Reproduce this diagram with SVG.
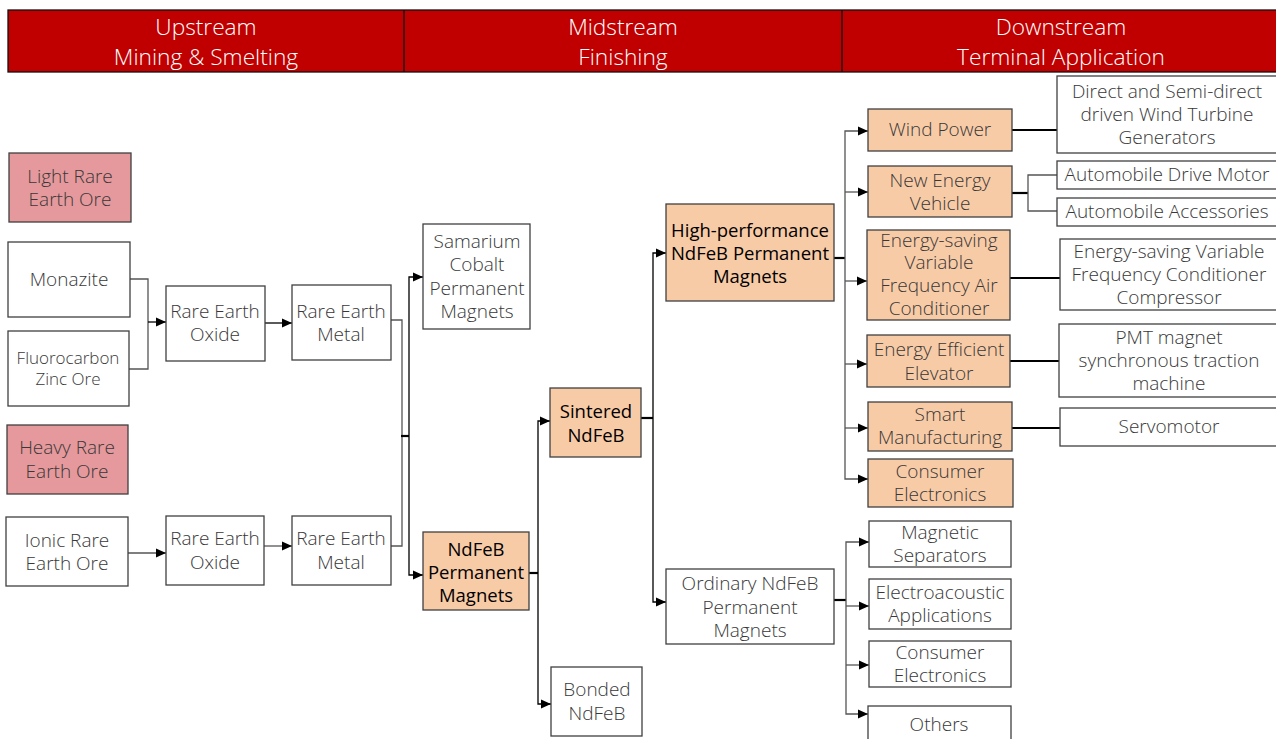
<svg xmlns="http://www.w3.org/2000/svg" width="1276" height="739" viewBox="0 0 1276 739">
<style>
.hdr{fill:#C00000;stroke:#111;stroke-width:1.3}
.ht{font-family:"Open Sans","DejaVu Sans",sans-serif;font-weight:300;font-size:22.7px;fill:#fff;text-anchor:middle;dominant-baseline:central}
.b{fill:#fff;stroke:#404040;stroke-width:1.3}
.pk{fill:#E6999C;stroke:#404040;stroke-width:1.3}
.pc{fill:#F8CBA7;stroke:#404040;stroke-width:1.3}
text.t{font-family:"Open Sans","DejaVu Sans",sans-serif;font-weight:300;font-size:19px;fill:#383838;text-anchor:middle;dominant-baseline:central}
text.k{font-family:"Open Sans","DejaVu Sans",sans-serif;font-weight:400;font-size:18.5px;fill:#000;text-anchor:middle;dominant-baseline:central}
.c{fill:none;stroke:#000;stroke-width:1.3}
.g{fill:none;stroke:#555;stroke-width:1.3}
.th{fill:none;stroke:#000;stroke-width:2.2}
.a{marker-end:url(#ar)}
</style>
<defs>
<marker id="ar" markerUnits="userSpaceOnUse" markerWidth="10" markerHeight="10" viewBox="0 0 10 10" refX="10" refY="5" orient="auto">
<path d="M0,0.5 L10,5 L0,9.5 Z" fill="#000"/>
</marker>
</defs>

<g id="header">
<rect class="hdr" x="8" y="10" width="1280" height="62"/>
<line x1="404" y1="10" x2="404" y2="72" stroke="#111" stroke-width="1.3"/>
<line x1="842" y1="10" x2="842" y2="72" stroke="#111" stroke-width="1.3"/>
<text class="ht" x="206" y="26">Upstream</text>
<text class="ht" x="206" y="56">Mining &amp; Smelting</text>
<text class="ht" x="623" y="26">Midstream</text>
<text class="ht" x="623" y="56">Finishing</text>
<text class="ht" x="1061" y="26">Downstream</text>
<text class="ht" x="1061" y="56">Terminal Application</text>
</g>

<g id="connectors">
<path class="g" d="M130 279 H148 V369 H129"/>
<path class="c a" d="M148 322 H166"/>
<path class="c a" d="M265 323 H292"/>
<path class="g a" d="M128 553 H166"/>
<path class="g a" d="M264 546 H292"/>
<path class="g" d="M391 320 H402 V546 H391"/>
<path class="th" d="M401 436 H409"/>
<path class="c a" d="M409 436 V277 H423"/>
<path class="c a" d="M409 436 V575 H423"/>
<path class="th" d="M529 573 H538"/>
<path class="c a" d="M538 573 V421 H550"/>
<path class="c a" d="M538 573 V704 H551"/>
<path class="th" d="M641 418 H653"/>
<path class="c a" d="M653 418 V253 H666"/>
<path class="c a" d="M653 418 V602 H666"/>
<path class="th" d="M834 258 H845"/>
<path class="g a" d="M845 258 V131 H868"/>
<path class="g a" d="M845 258 V479 H868"/>
<path class="g a" d="M845 192 H868"/>
<path class="g a" d="M845 281 H867"/>
<path class="g a" d="M845 364 H867"/>
<path class="g a" d="M845 428 H868"/>
<path class="th" d="M1012 130 H1057"/>
<path class="th" d="M1012 193 H1028"/>
<path class="g" d="M1057 175 H1028 V211 H1057"/>
<path class="th" d="M1010 278 H1060"/>
<path class="th" d="M1010 361 H1059"/>
<path class="th" d="M1012 428 H1060"/>
<path class="th" d="M834 600 H846"/>
<path class="g a" d="M846 600 V542 H869"/>
<path class="g a" d="M846 600 V714 H868"/>
<path class="g a" d="M846 606 H869"/>
<path class="g a" d="M846 665 H869"/>
</g>

<g id="light-ore"><rect class="pk" x="9" y="153" width="122" height="69"/><text class="t" x="70" y="176">Light Rare</text><text class="t" x="70" y="199">Earth Ore</text></g>
<g id="monazite"><rect class="b" x="8" y="242" width="122" height="75"/><text class="t" x="69" y="279">Monazite</text></g>
<g id="fluorocarbon"><rect class="b" x="8" y="331" width="121" height="75"/><text class="t" x="68" y="357" style="font-size:17px">Fluorocarbon</text><text class="t" x="68" y="378" style="font-size:17px">Zinc Ore</text></g>
<g id="heavy-ore"><rect class="pk" x="7" y="425" width="121" height="69"/><text class="t" x="67" y="447">Heavy Rare</text><text class="t" x="67" y="471">Earth Ore</text></g>
<g id="ionic-ore"><rect class="b" x="6" y="517" width="122" height="69"/><text class="t" x="67" y="540">Ionic Rare</text><text class="t" x="67" y="563">Earth Ore</text></g>
<g id="oxide1"><rect class="b" x="166" y="286" width="99" height="75"/><text class="t" x="215" y="311">Rare Earth</text><text class="t" x="215" y="334">Oxide</text></g>
<g id="metal1"><rect class="b" x="292" y="285" width="99" height="75"/><text class="t" x="341" y="311">Rare Earth</text><text class="t" x="341" y="334">Metal</text></g>
<g id="oxide2"><rect class="b" x="166" y="516" width="98" height="69"/><text class="t" x="215" y="538">Rare Earth</text><text class="t" x="215" y="562">Oxide</text></g>
<g id="metal2"><rect class="b" x="292" y="516" width="99" height="69"/><text class="t" x="341" y="538">Rare Earth</text><text class="t" x="341" y="562">Metal</text></g>
<g id="samarium"><rect class="b" x="423" y="224" width="107" height="105"/><text class="t" x="477" y="241">Samarium</text><text class="t" x="477" y="264">Cobalt</text><text class="t" x="477" y="288">Permanent</text><text class="t" x="477" y="311">Magnets</text></g>
<g id="ndfeb"><rect class="pc" x="423" y="532" width="106" height="78"/><text class="k" x="476" y="548">NdFeB</text><text class="k" x="476" y="571">Permanent</text><text class="k" x="476" y="594">Magnets</text></g>
<g id="sintered"><rect class="pc" x="550" y="388" width="91" height="69"/><text class="k" x="596" y="410">Sintered</text><text class="k" x="596" y="434">NdFeB</text></g>
<g id="bonded"><rect class="b" x="551" y="667" width="91" height="69"/><text class="t" x="597" y="689">Bonded</text><text class="t" x="597" y="713">NdFeB</text></g>
<g id="high-perf"><rect class="pc" x="666" y="204" width="168" height="97"/><text class="k" x="750" y="229">High-performance</text><text class="k" x="750" y="252">NdFeB Permanent</text><text class="k" x="750" y="275">Magnets</text></g>
<g id="ordinary"><rect class="b" x="666" y="569" width="168" height="75"/><text class="t" x="750" y="583">Ordinary NdFeB</text><text class="t" x="750" y="607">Permanent</text><text class="t" x="750" y="630">Magnets</text></g>
<g id="wind"><rect class="pc" x="868" y="109" width="144" height="42"/><text class="t" x="940" y="129">Wind Power</text></g>
<g id="nev"><rect class="pc" x="868" y="166" width="144" height="51"/><text class="t" x="940" y="180">New Energy</text><text class="t" x="940" y="203">Vehicle</text></g>
<g id="vfac"><rect class="pc" x="867" y="230" width="143" height="90"/><text class="t" x="939" y="240">Energy-saving</text><text class="t" x="939" y="262">Variable</text><text class="t" x="939" y="285">Frequency Air</text><text class="t" x="939" y="308">Conditioner</text></g>
<g id="elevator"><rect class="pc" x="867" y="335" width="143" height="52"/><text class="t" x="939" y="349">Energy Efficient</text><text class="t" x="939" y="373">Elevator</text></g>
<g id="smart"><rect class="pc" x="868" y="402" width="144" height="49"/><text class="t" x="940" y="414">Smart</text><text class="t" x="940" y="437">Manufacturing</text></g>
<g id="consumer1"><rect class="pc" x="868" y="459" width="145" height="48"/><text class="t" x="940" y="471">Consumer</text><text class="t" x="940" y="494">Electronics</text></g>
<g id="separators"><rect class="b" x="869" y="521" width="142" height="46"/><text class="t" x="940" y="532">Magnetic</text><text class="t" x="940" y="555">Separators</text></g>
<g id="electroacoustic"><rect class="b" x="869" y="579" width="142" height="50"/><text class="t" x="940" y="592">Electroacoustic</text><text class="t" x="940" y="615">Applications</text></g>
<g id="consumer2"><rect class="b" x="869" y="641" width="142" height="46"/><text class="t" x="940" y="652">Consumer</text><text class="t" x="940" y="675">Electronics</text></g>
<g id="others"><rect class="b" x="868" y="706" width="143" height="45"/><text class="t" x="939" y="724">Others</text></g>
<g id="direct"><rect class="b" x="1057" y="76" width="240" height="77"/><text class="t" x="1167" y="91">Direct and Semi-direct</text><text class="t" x="1167" y="114">driven Wind Turbine</text><text class="t" x="1167" y="137">Generators</text></g>
<g id="drive-motor"><rect class="b" x="1057" y="161" width="240" height="28"/><text class="t" x="1167" y="174">Automobile Drive Motor</text></g>
<g id="accessories"><rect class="b" x="1057" y="198" width="240" height="28"/><text class="t" x="1167" y="211">Automobile Accessories</text></g>
<g id="compressor"><rect class="b" x="1060" y="239" width="240" height="71"/><text class="t" x="1169" y="251">Energy-saving Variable</text><text class="t" x="1169" y="274">Frequency Conditioner</text><text class="t" x="1169" y="297">Compressor</text></g>
<g id="pmt"><rect class="b" x="1059" y="324" width="240" height="73"/><text class="t" x="1169" y="337">PMT magnet</text><text class="t" x="1169" y="360">synchronous traction</text><text class="t" x="1169" y="383">machine</text></g>
<g id="servo"><rect class="b" x="1060" y="408" width="240" height="38"/><text class="t" x="1169" y="426">Servomotor</text></g>
</svg>
